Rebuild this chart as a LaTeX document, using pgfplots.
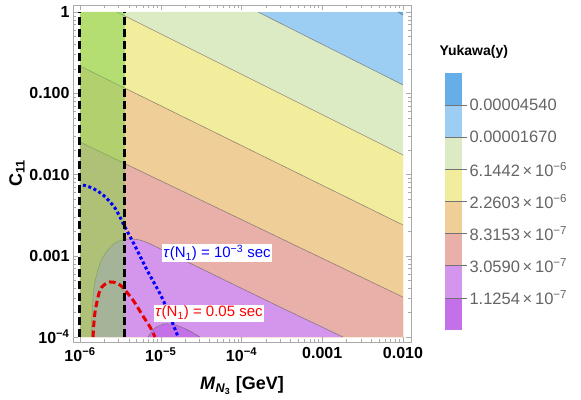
\documentclass[border=0pt]{standalone}
\usepackage{pgfplots}
\pgfplotsset{compat=1.18}
\usepackage{fontspec}
\setmainfont{Liberation Sans}

\definecolor{cBlue}{RGB}{102,174,232}
\definecolor{cLtBlue}{RGB}{156,205,242}
\definecolor{cLtGreen}{RGB}{221,235,197}
\definecolor{cYellow}{RGB}{242,236,157}
\definecolor{cOrange}{RGB}{240,206,152}
\definecolor{cPink}{RGB}{232,176,168}
\definecolor{cLtPurple}{RGB}{212,150,236}
\definecolor{cPurple}{RGB}{196,112,232}
\definecolor{cBand}{RGB}{120,210,70}
\definecolor{cFrame}{RGB}{170,170,170}
\definecolor{cLab}{RGB}{100,100,100}

\begin{document}
\begin{tikzpicture}
\begin{axis}[
    name=main,
    scale only axis,
    width=338pt, height=337pt,
    xmode=log, ymode=log,
    xmin=8.19e-7, xmax=1.256e-2,
    ymin=8.68e-5, ymax=1.219,
    axis line style={cFrame},
    tick style={cFrame},
    tick align=inside,
    major tick length=5pt, minor tick length=3pt,
    xtick={1e-6,1e-5,1e-4,1e-3,1e-2},
    xticklabels={10\textsuperscript{−6},10\textsuperscript{−5},10\textsuperscript{−4},0.001,0.010},
    ytick={1e-4,1e-3,1e-2,1e-1,1},
    yticklabels={10\textsuperscript{−4},0.001,0.010,0.100,1},
    ticklabel style={font=\fontsize{16}{18}\selectfont\bfseries, black},
    xticklabel style={yshift=-2pt},
    xlabel={\textbf{\textit{M}\textsubscript{\textit{N}\textsubscript{3}} [GeV]}},
    ylabel={\textbf{C\textsubscript{11}}},
    label style={font=\fontsize{18}{20}\selectfont},
    xlabel style={yshift=-8pt},
    ylabel style={yshift=-2pt},
    axis on top,
]
% base contour regions (Yukawa levels)
\addplot[fill=cLtBlue, draw=none] coordinates {(1e-6,1e-4) (1e-2,1e-4) (1e-2,1) (1e-6,1)} --cycle;
\addplot[fill=cBlue, draw=none] coordinates {(8.67e-3,1) (1e-2,1) (1e-2,0.918)} --cycle;
\addplot[fill=cLtGreen, draw=none] coordinates {(1e-6,1) (1.60e-4,1) (1e-2,0.1265) (1e-2,1e-4) (1e-6,1e-4)} --cycle;
\addplot[fill=cYellow, draw=none] coordinates {(1e-6,1) (2.87e-6,1) (1e-2,0.01738) (1e-2,1e-4) (1e-6,1e-4)} --cycle;
\addplot[fill=cOrange, draw=none] coordinates {(1e-6,0.2163) (1e-2,2.39e-3) (1e-2,1e-4) (1e-6,1e-4)} --cycle;
\addplot[fill=cPink, draw=none] coordinates {(1e-6,0.0251) (1e-2,3.10e-4) (1e-2,1e-4) (1e-6,1e-4)} --cycle;
\addplot[fill=cLtPurple, draw=none] coordinates {
  (1.807e-3,1e-4) (3.0e-4,2.34e-4) (3.06e-5,7.06e-4) (1.13e-5,1.14e-3) (7.36e-6,1.40e-3)
  (5.53e-6,1.56e-3) (4.16e-6,1.61e-3) (3.31e-6,1.56e-3) (2.71e-6,1.44e-3) (2.22e-6,1.18e-3)
  (1.87e-6,9.12e-4) (1.67e-6,6.68e-4) (1.53e-6,4.75e-4) (1.45e-6,3.10e-4) (1.41e-6,1.87e-4)
  (1.37e-6,1e-4)} --cycle;
\addplot[fill=cPurple, draw=none] coordinates {
  (6.95e-6,1e-4) (8.49e-6,1.29e-4) (1.13e-5,1.45e-4) (1.50e-5,1.41e-4) (2.17e-5,1.22e-4) (3.06e-5,1e-4)} --cycle;
% contour lines
\addplot[black!60, opacity=0.7, line width=0.6pt] coordinates {(8.67e-3,1) (1e-2,0.918)};
\addplot[black!60, opacity=0.7, line width=0.6pt] coordinates {(1.60e-4,1) (1e-2,0.1265)};
\addplot[black!60, opacity=0.7, line width=0.6pt] coordinates {(2.87e-6,1) (1e-2,0.01738)};
\addplot[black!60, opacity=0.7, line width=0.6pt] coordinates {(1e-6,0.2163) (1e-2,2.39e-3)};
\addplot[black!60, opacity=0.7, line width=0.6pt] coordinates {(1e-6,0.0251) (1e-2,3.10e-4)};
\addplot[black!60, opacity=0.7, line width=0.6pt, smooth] coordinates {
  (1.807e-3,1e-4) (3.0e-4,2.34e-4) (3.06e-5,7.06e-4) (1.13e-5,1.14e-3) (7.36e-6,1.40e-3)
  (5.53e-6,1.56e-3) (4.16e-6,1.61e-3) (3.31e-6,1.56e-3) (2.71e-6,1.44e-3) (2.22e-6,1.18e-3)
  (1.87e-6,9.12e-4) (1.67e-6,6.68e-4) (1.53e-6,4.75e-4) (1.45e-6,3.10e-4) (1.41e-6,1.87e-4)
  (1.37e-6,1e-4)};
\addplot[black!60, opacity=0.7, line width=0.6pt, smooth] coordinates {
  (6.95e-6,1e-4) (8.49e-6,1.29e-4) (1.13e-5,1.45e-4) (1.50e-5,1.41e-4) (2.17e-5,1.22e-4) (3.06e-5,1e-4)};
% allowed band
\addplot[fill=cBand, fill opacity=0.5, draw=none] coordinates {(1e-6,1e-4) (3.6e-6,1e-4) (3.6e-6,1) (1e-6,1)} --cycle;
% lifetime curves
\addplot[blue, line width=3pt, dash pattern=on 3pt off 2.6pt, smooth] coordinates {
  (1.089e-6,7.43e-3) (1.41e-6,6.82e-3) (1.93e-6,5.60e-3) (2.71e-6,3.87e-3) (3.60e-6,2.26e-3)
  (4.80e-6,1.32e-3) (6.76e-6,6.68e-4) (1.07e-5,2.85e-4) (1.64e-5,1e-4)};
\addplot[red!90!black, line width=3pt, dash pattern=on 6.5pt off 3.5pt, smooth] coordinates {
  (1.45e-6,1e-4) (1.53e-6,1.97e-4) (1.77e-6,3.78e-4) (2.16e-6,4.62e-4) (2.56e-6,4.75e-4)
  (3.13e-6,4.37e-4) (3.51e-6,3.90e-4) (4.53e-6,2.85e-4) (6.03e-6,1.81e-4) (7.36e-6,1.33e-4)
  (8.49e-6,1e-4)};
% band edges
\addplot[black, line width=3pt, dash pattern=on 8pt off 4pt] coordinates {(1e-6,1e-4) (1e-6,1)};
\addplot[black, line width=3pt, dash pattern=on 8pt off 4pt] coordinates {(3.6e-6,1e-4) (3.6e-6,1)};
% curve labels
\node[fill=white, inner sep=1.5pt, text=blue, font=\fontsize{15}{17}\selectfont]
  at (axis cs:4.98e-5,1.08e-3) {\textit{τ}(N\textsubscript{1}) = 10\textsuperscript{−3} sec};
\node[fill=white, inner sep=1.5pt, text=red, font=\fontsize{15}{17}\selectfont]
  at (axis cs:3.96e-5,1.97e-4) {\textit{τ}(N\textsubscript{1}) = 0.05 sec};
\end{axis}

% colour bar
\begin{axis}[
    name=cb,
    at={(main.north east)}, anchor=north west,
    xshift=34pt, yshift=-68pt,
    scale only axis,
    width=17pt, height=257pt,
    xmin=0, xmax=1, ymin=0, ymax=8,
    axis line style={draw=none},
    xtick=\empty,
    ytick={1,2,3,4,5,6,7},
    yticklabels={1.1254\,×\,10\textsuperscript{−7},3.0590\,×\,10\textsuperscript{−7},8.3153\,×\,10\textsuperscript{−7},2.2603\,×\,10\textsuperscript{−6},6.1442\,×\,10\textsuperscript{−6},0.00001670,0.00004540},
    ytick pos=right, yticklabel pos=right,
    tick align=outside,
    major tick length=5pt,
    tick style={black!55, line width=0.6pt},
    yticklabel style={font=\fontsize{16.5}{18}\selectfont, text=cLab, xshift=-1pt},
    title={\textbf{Yukawa(y)}},
    title style={font=\fontsize{14}{16}\selectfont, anchor=south west, at={(0,1)}, xshift=-9pt, yshift=5pt},
    clip=false,
]
\addplot[fill=cPurple, draw=none] coordinates {(0,0) (1,0) (1,1) (0,1)} --cycle;
\addplot[fill=cLtPurple, draw=none] coordinates {(0,1) (1,1) (1,2) (0,2)} --cycle;
\addplot[fill=cPink, draw=none] coordinates {(0,2) (1,2) (1,3) (0,3)} --cycle;
\addplot[fill=cOrange, draw=none] coordinates {(0,3) (1,3) (1,4) (0,4)} --cycle;
\addplot[fill=cYellow, draw=none] coordinates {(0,4) (1,4) (1,5) (0,5)} --cycle;
\addplot[fill=cLtGreen, draw=none] coordinates {(0,5) (1,5) (1,6) (0,6)} --cycle;
\addplot[fill=cLtBlue, draw=none] coordinates {(0,6) (1,6) (1,7) (0,7)} --cycle;
\addplot[fill=cBlue, draw=none] coordinates {(0,7) (1,7) (1,8) (0,8)} --cycle;
\addplot[black!55, line width=0.6pt] coordinates {(0,1) (1,1)};
\addplot[black!55, line width=0.6pt] coordinates {(0,2) (1,2)};
\addplot[black!55, line width=0.6pt] coordinates {(0,3) (1,3)};
\addplot[black!55, line width=0.6pt] coordinates {(0,4) (1,4)};
\addplot[black!55, line width=0.6pt] coordinates {(0,5) (1,5)};
\addplot[black!55, line width=0.6pt] coordinates {(0,6) (1,6)};
\addplot[black!55, line width=0.6pt] coordinates {(0,7) (1,7)};
\end{axis}

\pgfresetboundingbox
\path[use as bounding box] (main.south west) ++(-73pt,-57pt) rectangle ++(581pt,399pt);
\end{tikzpicture}
\end{document}
